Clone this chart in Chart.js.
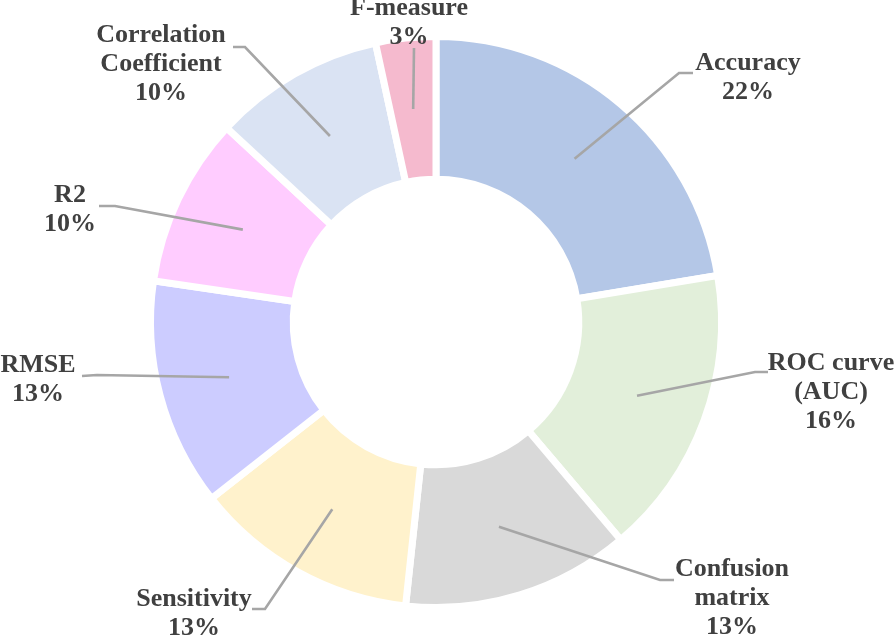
<!DOCTYPE html>
<html>
<head>
<meta charset="utf-8">
<script src="https://cdn.jsdelivr.net/npm/chart.js@4"></script>
<style>
html,body{margin:0;padding:0;background:#fff;overflow:hidden;}
canvas{display:block;}
#fontprobe{position:absolute;left:-9999px;top:0;font:bold 26px "Liberation Serif";}
</style>
</head>
<body>
<div id="fontprobe">Accuracy 22%</div>
<canvas id="c" width="894" height="638"></canvas>
<script>
// Data (slice shares; printed labels are rounded)
const categories = ["Accuracy", "ROC curve (AUC)", "Confusion matrix", "Sensitivity", "RMSE", "R2", "Correlation Coefficient", "F-measure"];
const values = [22.4, 16.4, 12.9, 12.7, 12.9, 9.6, 9.7, 3.4];
const labelLines = [
  ["Accuracy"],
  ["ROC curve", "(AUC)"],
  ["Confusion", "matrix"],
  ["Sensitivity"],
  ["RMSE"],
  ["R2"],
  ["Correlation", "Coefficient"],
  ["F-measure"]
];
const colors = ["#B4C7E7", "#E2EFDA", "#D9D9D9", "#FFF2CC", "#CCCCFF", "#FFCCFF", "#DAE3F3", "#F5BACE"];

// Label layout (offsets relative to the doughnut centre): elbow, tail end, text block centre x / first line y
const labelLayout = [
  {elbow:[243,-249], end:[257,-249], tx:312, ty:-259},
  {elbow:[319, 50],  end:[332, 50],  tx:395, ty:41},
  {elbow:[224, 258], end:[238, 258], tx:296, ty:247},
  {elbow:[-171,287], end:[-184,287], tx:-242, ty:277},
  {elbow:[-339, 53], end:[-354, 54], tx:-398, ty:43},
  {elbow:[-321,-116],end:[-337,-116],tx:-366, ty:-127},
  {elbow:[-191,-275],end:[-203,-275],tx:-275, ty:-287},
  {elbow:[-22,-274], end:[-22,-274], tx:-27, ty:-314}
];

const FONT = 'bold 26px "Liberation Serif"';

const labelPlugin = {
  id: 'outLabels',
  afterDatasetsDraw(chart) {
    const ctx = chart.ctx;
    const meta = chart.getDatasetMeta(0);
    const total = values.reduce((a,b)=>a+b,0);
    meta.data.forEach((arc, i) => {
      const cx = arc.x, cy = arc.y;
      const p = arc.getCenterPoint();
      const L = labelLayout[i];
      ctx.save();
      ctx.strokeStyle = '#A6A6A6';
      ctx.lineWidth = 2.6;
      ctx.beginPath();
      ctx.moveTo(p.x, p.y);
      ctx.lineTo(cx + L.elbow[0], cy + L.elbow[1]);
      ctx.lineTo(cx + L.end[0], cy + L.end[1]);
      ctx.stroke();
      ctx.fillStyle = '#404040';
      ctx.font = FONT;
      ctx.textAlign = 'center';
      ctx.textBaseline = 'middle';
      const lines = labelLines[i].concat([Math.round(values[i] / total * 100) + '%']);
      lines.forEach((t, k) => {
        ctx.fillText(t, cx + L.tx, cy + L.ty + k * 29);
      });
      ctx.restore();
    });
  }
};

function draw() {
  new Chart(document.getElementById('c'), {
    type: 'doughnut',
    data: {
      labels: categories,
      datasets: [{
        data: values,
        backgroundColor: colors,
        borderColor: '#FFFFFF',
        borderWidth: 7,
        borderJoinStyle: 'miter',
        hoverOffset: 0
      }]
    },
    options: {
      responsive: false,
      animation: false,
      radius: 285.5,
      cutout: '50%',
      layout: {padding: {left: 0, right: 22, top: 6, bottom: 0}},
      plugins: {legend: {display: false}, tooltip: {enabled: false}},
      events: []
    },
    plugins: [labelPlugin]
  });
}

if (document.fonts && document.fonts.load) {
  document.fonts.load(FONT, 'Accuracy').then(draw, draw);
} else {
  draw();
}
</script>
</body>
</html>
